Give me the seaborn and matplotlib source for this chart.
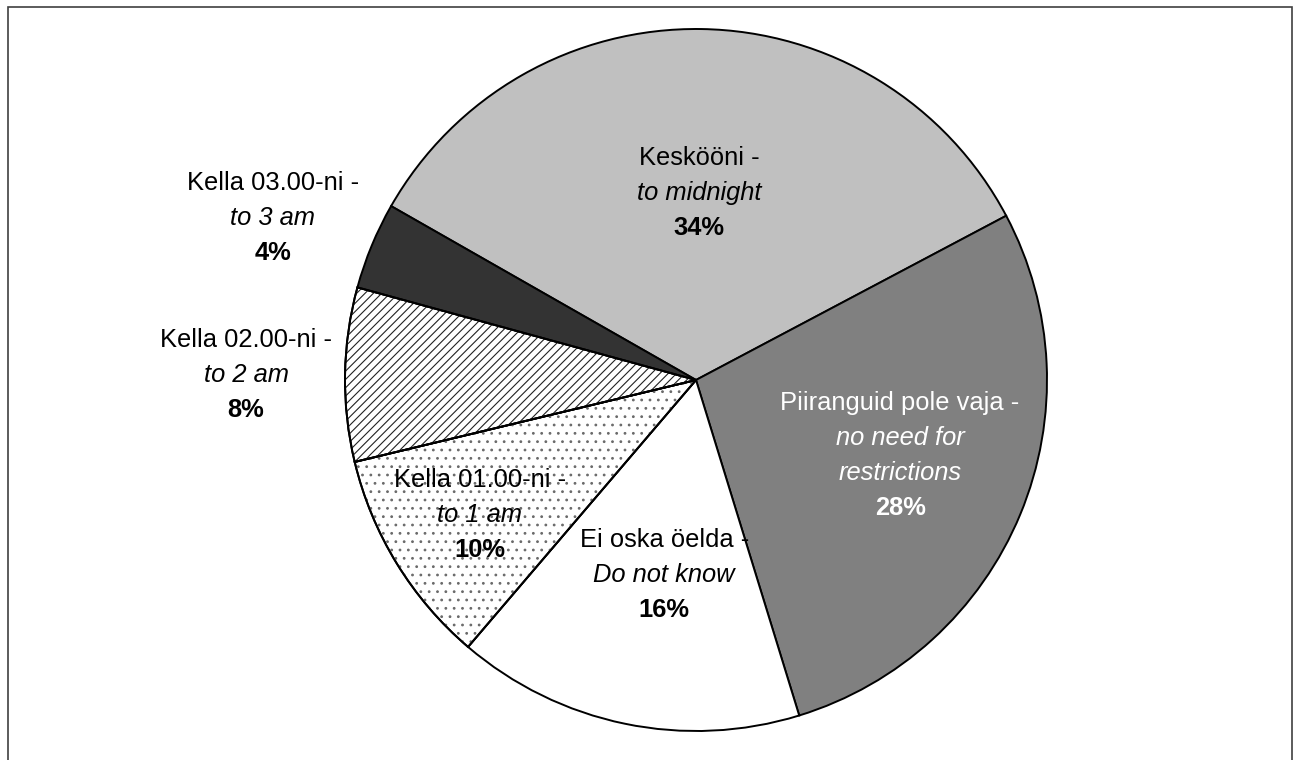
import matplotlib
matplotlib.use("Agg")
import matplotlib.pyplot as plt
import matplotlib.transforms as mtransforms
from matplotlib.patches import Rectangle, Wedge
import numpy as np
import seaborn as sns

# ---- data ----
labels_et = ["Keskööni -", "Piiranguid pole vaja -", "Ei oska öelda -",
             "Kella 01.00-ni -", "Kella 02.00-ni -", "Kella 03.00-ni -"]
labels_en = [["to midnight"], ["no need for", "restrictions"], ["Do not know"],
             ["to 1 am"], ["to 2 am"], ["to 3 am"]]
shares = [34, 28, 16, 10, 8, 4]

# ---- style ----
colors = ["#c0c0c0", "#808080", "#ffffff", "#ffffff", "#ffffff", "#333333"]
hatches = [None, None, None, "..", "////", None]
hatch_colors = [None, None, None, "#6a6a6a", "#222222", None]
text_colors = ["black", "white", "black", "black", "black", "black"]
label_r = [0.541, 0.618, 0.555, 0.722, 1.282, 1.294]
angle_nudge = [0.0, 2.7, 2.3, 0.0, 0.0, 1.2]

sns.set_theme(style="white")
plt.rcParams["font.family"] = ["Liberation Sans", "DejaVu Sans"]
plt.rcParams["hatch.linewidth"] = 0.8

W, H, DPI = 1295, 760, 100
fig = plt.figure(figsize=(W / DPI, H / DPI), dpi=DPI)
fig.patch.set_facecolor("white")
ax = fig.add_axes([0, 0, 1, 1])

cx, cy, R = 696, 380, 351  # pixel geometry of the pie
wedges, _ = ax.pie(shares, colors=colors, startangle=150.3, counterclock=False,
                   radius=1, wedgeprops=dict(edgecolor="black", linewidth=1.4))

# hatch overlays in their own colour, drawn beneath the black outlines
for w, h, hc in zip(wedges, hatches, hatch_colors):
    if h:
        ov = Wedge(w.center, w.r, w.theta1, w.theta2, facecolor="none",
                   edgecolor=hc, linewidth=0, hatch=h, zorder=w.get_zorder() + 0.1)
        ax.add_patch(ov)
        outline = Wedge(w.center, w.r, w.theta1, w.theta2, facecolor="none",
                        edgecolor="black", linewidth=1.4, zorder=w.get_zorder() + 0.2)
        ax.add_patch(outline)

ax.set_xlim(-cx / R, (W - cx) / R)
ax.set_ylim(-(H - cy) / R, cy / R)
ax.set_aspect("auto")
ax.axis("off")

fs = 18.4
line_pts = 25.2
for i, w in enumerate(wedges):
    theta = np.deg2rad((w.theta1 + w.theta2) / 2 + angle_nudge[i])
    x, y = label_r[i] * np.cos(theta), label_r[i] * np.sin(theta)
    lines = [(labels_et[i], "normal", "normal")]
    lines += [(t, "italic", "normal") for t in labels_en[i]]
    lines += [(f"{shares[i]}%", "normal", "bold")]
    n = len(lines)
    for j, (txt, st, wt) in enumerate(lines):
        dy = -line_pts * (j - (n - 1) / 2)
        tr = mtransforms.offset_copy(ax.transData, fig=fig, x=0, y=dy, units="points")
        ax.text(x, y, txt, transform=tr, ha="center", va="center_baseline",
                fontsize=fs, style=st, weight=wt, color=text_colors[i], zorder=5)

# chart-area frame
fig.add_artist(Rectangle((8 / W, -0.05), (1292 - 8) / W, 1 - 7 / H + 0.05,
                         transform=fig.transFigure, fill=False,
                         edgecolor="#404040", linewidth=1.2))

fig.savefig("out.png", dpi=DPI, facecolor="white")
